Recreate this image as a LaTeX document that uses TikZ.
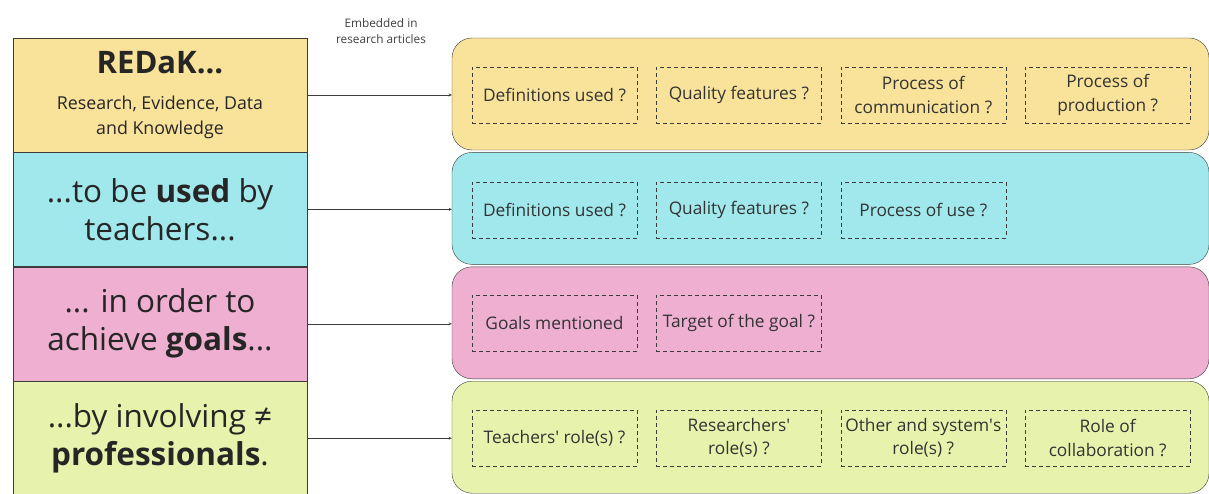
\documentclass[tikz,border=0pt]{standalone}
\usepackage{fontspec}
\setmainfont{Open Sans}
\usetikzlibrary{arrows, positioning}
\definecolor{redakyellow}{RGB}{249,226,153}
\definecolor{usedcyan}{RGB}{161,232,236}
\definecolor{goalpink}{RGB}{238,175,209}
\definecolor{profgreen}{RGB}{231,243,172}
\definecolor{edgegray}{RGB}{60,60,60}
\tikzstyle{stage} = [rectangle, text centered, align=center, draw=edgegray, thin, minimum width=294pt, minimum height=114pt, inner sep=2pt, text=black!85]
\tikzstyle{lane} = [rectangle, rounded corners=20pt, draw=edgegray, thin, minimum width=757pt, minimum height=112pt]
\tikzstyle{question} = [rectangle, text centered, align=center, draw=edgegray, dashed, dash pattern=on 4pt off 3pt, thin, minimum width=165pt, minimum height=56pt, inner sep=1pt, font=\fontsize{17.3}{23.5}\selectfont, text=black!80]
\tikzstyle{feed} = [thin, edgegray, ->, >=stealth]

\begin{document}
\begin{tikzpicture}[x=1pt, y=-1pt, node distance=19pt]

    \useasboundingbox (0,0) rectangle (1209,494);

    % left column
    \node (redak) [stage, fill=redakyellow, font=\fontsize{17.8}{25}\selectfont] at (160,95)
        {\fontsize{31}{25}\selectfont\bfseries REDaK...\\[11pt]
         \fontsize{17.8}{25}\selectfont\mdseries Research, Evidence, Data\\and Knowledge};
    \node (used) [stage, fill=usedcyan, below=0pt of redak, font=\fontsize{31.5}{38}\selectfont]
        {...to be \textbf{used} by\\teachers...};
    \node (goals) [stage, fill=goalpink, below=0pt of used, font=\fontsize{31.5}{38}\selectfont]
        {... in order to\\achieve \textbf{goals}...};
    \node (profs) [stage, fill=profgreen, below=0pt of goals, font=\fontsize{31.5}{38}\selectfont]
        {...by involving ≠\\\textbf{professionals}.};

    % right column
    \node (lane1) [lane, fill=redakyellow] at (830.5,94) {};
    \node (lane2) [lane, fill=usedcyan, below=2pt of lane1] {};
    \node (lane3) [lane, fill=goalpink, below=2pt of lane2] {};
    \node (lane4) [lane, fill=profgreen, below=2pt of lane3] {};

    \node (q11) [question] at (554.5,95) {Definitions used ?};
    \node (q12) [question, right=of q11] {Quality features ?};
    \node (q13) [question, right=of q12] {Process of\\communication ?};
    \node (q14) [question, right=of q13] {Process of\\production ?};

    \node (q21) [question] at (554.5,210) {Definitions used ?};
    \node (q22) [question, right=of q21] {Quality features ?};
    \node (q23) [question, right=of q22] {Process of use ?};

    \node (q31) [question] at (554.5,323) {Goals mentioned};
    \node (q32) [question, right=of q31] {Target of the goal ?};

    \node (q41) [question] at (554.5,438) {Teachers\textquotesingle{} role(s) ?};
    \node (q42) [question, right=of q41] {Researchers\textquotesingle\\role(s) ?};
    \node (q43) [question, right=of q42] {Other and system\textquotesingle s\\role(s) ?};
    \node (q44) [question, right=of q43] {Role of\\collaboration ?};

    \draw [feed] (redak.east) -- (redak.east -| lane1.west);
    \draw [feed] (used.east) -- (used.east -| lane2.west);
    \draw [feed] (goals.east) -- (goals.east -| lane3.west);
    \draw [feed] (profs.east) -- (profs.east -| lane4.west);

    \node (embedded) [align=center, font=\fontsize{11.8}{16}\selectfont, text=black!75] at (381,31)
        {Embedded in\\research articles};

\end{tikzpicture}
\end{document}
